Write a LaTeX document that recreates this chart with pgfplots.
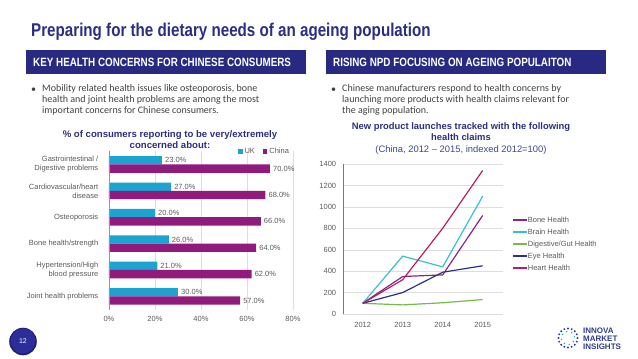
\documentclass[border=0pt]{standalone}
\usepackage{pgfplots}
\pgfplotsset{compat=1.18}
\usepackage{fontspec}
\setmainfont{Liberation Sans}
\newfontfamily\narrowfont[FakeStretch=0.82]{Liberation Sans}
\newfontfamily\bodyfont{Carlito}
\definecolor{navy}{RGB}{43,46,131}
\definecolor{hdr}{RGB}{40,42,130}
\definecolor{sub}{RGB}{60,70,150}
\definecolor{bodygray}{RGB}{64,64,64}
\definecolor{labgray}{RGB}{89,89,89}
\definecolor{gridgray}{RGB}{222,222,222}
\definecolor{axisgray}{RGB}{150,150,150}
\definecolor{ukc}{RGB}{29,163,207}
\definecolor{chc}{RGB}{145,26,125}
\definecolor{bonec}{RGB}{137,38,125}
\definecolor{brainc}{RGB}{57,192,206}
\definecolor{digc}{RGB}{122,184,72}
\definecolor{eyec}{RGB}{40,52,128}
\definecolor{heartc}{RGB}{185,30,100}
\definecolor{logoc}{RGB}{45,60,140}
\definecolor{pagec}{RGB}{44,44,155}
\begin{document}
\begin{tikzpicture}
\useasboundingbox (0,0) rectangle (638pt,-359pt);
% title
\node[anchor=base west, inner sep=0, text=navy] at (31pt,-36.5pt) {\narrowfont\bfseries\fontsize{18.5}{20}\selectfont Preparing for the dietary needs of an ageing population};
% headers
\fill[hdr] (26pt,-50pt) rectangle (306pt,-74pt);
\node[anchor=west, inner sep=0, text=white] at (33pt,-62pt) {\narrowfont\bfseries\fontsize{12}{14}\selectfont KEY HEALTH CONCERNS FOR CHINESE CONSUMERS};
\fill[hdr] (326pt,-50pt) rectangle (606pt,-74pt);
\node[anchor=west, inner sep=0, text=white] at (333pt,-62pt) {\narrowfont\bfseries\fontsize{12}{14}\selectfont RISING NPD FOCUSING ON AGEING POPULAITON};
% bullets
\node[anchor=base west, inner sep=0, text=bodygray] at (31pt,-92pt) {\bodyfont\fontsize{10}{11}\selectfont •};
\node[anchor=north west, inner sep=0, text=bodygray, align=left, font=\bodyfont\fontsize{10}{11}\selectfont] at (42pt,-84.5pt) {Mobility related health issues like osteoporosis, bone\\health and joint health problems are among the most\\important concerns for Chinese consumers.};
\node[anchor=base west, inner sep=0, text=bodygray] at (331pt,-92pt) {\bodyfont\fontsize{10}{11}\selectfont •};
\node[anchor=north west, inner sep=0, text=bodygray, align=left, font=\bodyfont\fontsize{10}{11}\selectfont] at (342pt,-84.5pt) {Chinese manufacturers respond to health concerns by\\launching more products with health claims relevant for\\the aging population.};
% chart titles
\node[align=center, text=navy, inner sep=0, font=\bfseries\fontsize{9.6}{11}\selectfont] at (170pt,-139.5pt) {\% of consumers reporting to be very/extremely\\concerned about:};
\node[align=center, text=navy, inner sep=0, font=\fontsize{9.4}{11.5}\selectfont] at (461pt,-138.5pt) {\textbf{New product launches tracked with the following}\\\textbf{health claims}\\{\color{sub}(China, 2012 – 2015, indexed 2012=100)}};

% bar chart
\begin{axis}[
 at={(109pt,-309.5pt)}, anchor=south west,
 scale only axis, width=184pt, height=158.2pt,
 xbar, bar width=8.3pt,
 xmin=0, xmax=80, ymin=-0.5, ymax=5.5,
 xtick={0,20,40,60,80}, xticklabels={0\%,20\%,40\%,60\%,80\%},
 ytick={0,1,2,3,4,5},
 yticklabels={Joint health problems,{Hypertension/High\\blood pressure},Bone health/strength,Osteoporosis,{Cardiovascular/heart\\disease},{Gastrointestinal /\\Digestive problems}},
 xmajorgrids, major grid style={draw=gridgray},
 axis line style={draw=none},
 tick style={draw=none},
 tick label style={font=\fontsize{7.5}{9}\selectfont, text=labgray},
 yticklabel style={align=right, xshift=-3pt},
 xticklabel style={yshift=-3pt},
 /pgf/number format/assume math mode=true,
 point meta=x,
 nodes near coords={\pgfmathprintnumber[fixed,fixed zerofill,precision=1,assume math mode=true]{\pgfplotspointmeta}\%},
 nodes near coords style={font=\fontsize{7.5}{9}\selectfont, text=labgray, anchor=west, inner xsep=3pt},
 legend columns=2,
 legend style={at={(0.99,1.0)}, anchor=east, draw=none, fill=none, font=\fontsize{7.5}{9}\selectfont, text=labgray, inner sep=0pt, /tikz/every even column/.append style={column sep=6pt}},
 legend image code/.code={\fill[#1] (0pt,-2.2pt) rectangle (4.4pt,2.2pt);},
 clip=false,
]
\addplot[fill=ukc, draw=none, bar shift=4.15pt] coordinates {(30,0) (21,1) (26,2) (20,3) (27,4) (23,5)};
\addplot[fill=chc, draw=none, bar shift=-4.15pt] coordinates {(57,0) (62,1) (64,2) (66,3) (68,4) (70,5)};
\legend{UK, China}
\draw[axisgray] (axis cs:0,-0.5) -- (axis cs:0,5.5);
\end{axis}

% line chart
\begin{axis}[
 at={(342.7pt,-314pt)}, anchor=south west,
 scale only axis, width=160pt, height=150pt,
 xmin=-0.5, xmax=3.5, ymin=0, ymax=1400,
 xtick={0,1,2,3}, xticklabels={2012,2013,2014,2015},
 ytick={0,200,400,600,800,1000,1200,1400},
 ymajorgrids, major grid style={draw=gridgray},
 axis line style={draw=none}, tick style={draw=none},
 tick label style={font=\fontsize{7.5}{9}\selectfont, text=labgray},
 /pgf/number format/assume math mode=true,
 /pgf/number format/1000 sep={},
 xticklabel style={yshift=-4.5pt},
 yticklabel style={xshift=-3pt},
 legend style={at={(1.058,0.467)}, anchor=west, draw=none, fill=none, font=\fontsize{7.5}{9}\selectfont, text=labgray, inner sep=0pt, row sep=4.5pt, nodes={inner xsep=0.5pt, inner ysep=0pt, text height=6pt, text depth=1.5pt}},
 legend cell align=left,
 legend image code/.code={\draw[#1, line width=1.2pt] (0pt,0pt) -- (14pt,0pt);},
 every axis plot/.append style={line width=1.2pt},
 clip=false,
]
\addplot[color=bonec] coordinates {(0,100) (1,350) (2,365) (3,920)};
\addplot[color=brainc] coordinates {(0,100) (1,540) (2,440) (3,1100)};
\addplot[color=digc] coordinates {(0,100) (1,85) (2,105) (3,135)};
\addplot[color=eyec] coordinates {(0,100) (1,200) (2,390) (3,450)};
\addplot[color=heartc] coordinates {(0,100) (1,320) (2,800) (3,1340)};
\legend{Bone Health, Brain Health, Digestive/Gut Health, Eye Health, Heart Health}
\draw[axisgray!80!black] (axis cs:-0.5,0) -- (axis cs:-0.5,1400);
\end{axis}

% page number
\fill[pagec!70!black] (23pt,-341.5pt) circle (13.8pt);
\fill[pagec] (23pt,-341pt) circle (12.5pt);
\node[text=white, inner sep=0] at (23pt,-341.5pt) {\fontsize{7}{8}\selectfont 12};
% logo
\foreach \a in {0,22.5,...,337.5} {
  \fill[logoc] (568pt,-338pt) ++(\a:9.5pt) circle (1.1pt);
}
\foreach \a in {11.25,56.25,...,350} {
  \fill[ukc] (568pt,-338pt) ++(\a:6.5pt) circle (0.8pt);
}
\node[anchor=west, inner sep=0, text=logoc, align=left, font=\bfseries\fontsize{8}{8}\selectfont] at (583pt,-339pt) {INNOVA\\MARKET\\INSIGHTS};
\end{tikzpicture}
\end{document}
